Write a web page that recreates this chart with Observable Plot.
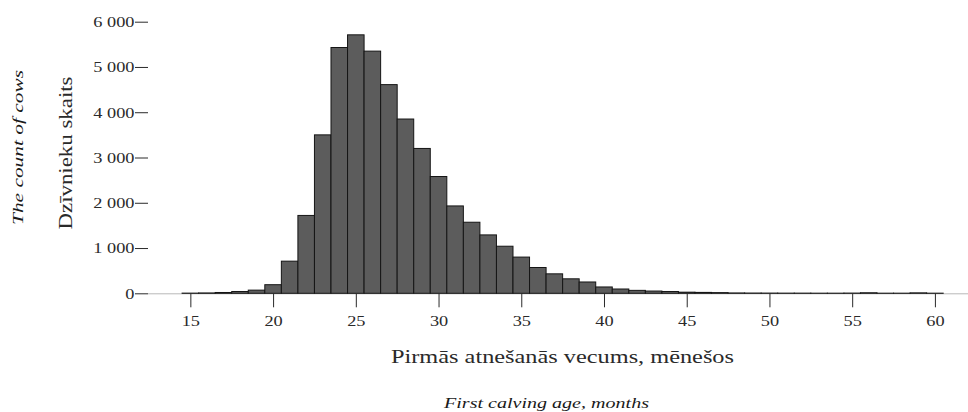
<!DOCTYPE html>
<html><head><meta charset="utf-8">
<script src="https://cdn.jsdelivr.net/npm/d3@7"></script>
<script src="https://cdn.jsdelivr.net/npm/@observablehq/plot@0.6"></script>
<style>
body{margin:0;background:#fff;}
</style>
</head><body><div id="chart"></div>
<script>
// First calving age (months) and number of cows per 1-month bin
const ages = [14,15,16,17,18,19,20,21,22,23,24,25,26,27,28,29,30,31,32,33,34,35,36,37,38,39,40,41,42,43,44,45,46,47,48,49,50,51,52,53,54,55,56,57,58,59,60];
const counts = [0,4,8,18,40,70,190,710,1720,3500,5430,5710,5350,4610,3850,3200,2580,1930,1570,1290,1040,800,570,430,320,250,140,95,65,50,40,25,20,15,8,6,5,4,4,3,3,5,12,3,3,10,3];
const yTicks = [0,1000,2000,3000,4000,5000,6000];
const xTicks = [15,20,25,30,35,40,45,50,55,60];
const yTitle = "Dzīvnieku skaits";
const yTitleEn = "The count of cows";
const xTitle = "Pirmās atnešanās vecums, mēnešos";
const xTitleEn = "First calving age, months";

const bins = ages.map((a, i) => ({age: a, count: counts[i]}));
const fmt = d => d3.format(",")(d).replace(/,/g, " ");

const chart = Plot.plot({
  width: 968, height: 412,
  marginLeft: 148, marginRight: 0, marginTop: 21.7, marginBottom: 118.7,
  style: {fontFamily: "'Liberation Serif', 'Times New Roman', serif", fontSize: "15px", color: "#2a2a2a", background: "#fff"},
  x: {domain: [12.44, 62], axis: null},
  y: {domain: [0, 6000], axis: null},
  marks: [
    Plot.ruleY([0], {stroke: "#b8b8b8", strokeWidth: 1}),
    Plot.rectY(bins, {x1: d => d.age - 0.5, x2: d => d.age + 0.5, y: "count", fill: "#5c5c5c", stroke: "#151515", strokeWidth: 1}),
    Plot.axisY(yTicks, {tickSize: 13, tickPadding: 1, tickFormat: fmt, label: null}),
    Plot.axisX(xTicks, {tickSize: 14, tickPadding: 8, label: null}),
    Plot.text([yTitle], {text: d => d, frameAnchor: "left", textAnchor: "middle", lineAnchor: "middle", rotate: -90, dx: -82, dy: -5, fontSize: 18, fill: "#2a2a2a"}),
    Plot.text([yTitleEn], {text: d => d, frameAnchor: "left", textAnchor: "middle", lineAnchor: "middle", rotate: -90, dx: -130, dy: -10.5, fontSize: 14, fontStyle: "italic", fill: "#1a1a1a"}),
    Plot.text([xTitle], {text: d => d, frameAnchor: "bottom", textAnchor: "middle", lineAnchor: "middle", dx: 4, dy: 63, fontSize: 19, fill: "#2a2a2a"}),
    Plot.text([xTitleEn], {text: d => d, frameAnchor: "bottom", textAnchor: "middle", lineAnchor: "middle", dx: -12, dy: 109, fontSize: 15, fontStyle: "italic", fill: "#1a1a1a"})
  ]
});
document.getElementById("chart").appendChild(chart);

// horizontally widen glyphs to match the reference's wide serif lettering
const targets = {};
targets[yTitle] = 153; targets[yTitleEn] = 155; targets[xTitle] = 343; targets[xTitleEn] = 205;
chart.querySelectorAll("text").forEach(t => {
  const s = t.textContent;
  const L = t.getComputedTextLength();
  const w = targets[s] !== undefined ? targets[s] : L * 1.22;
  t.setAttribute("textLength", w);
  t.setAttribute("lengthAdjust", "spacingAndGlyphs");
});
</script>
</body></html>
